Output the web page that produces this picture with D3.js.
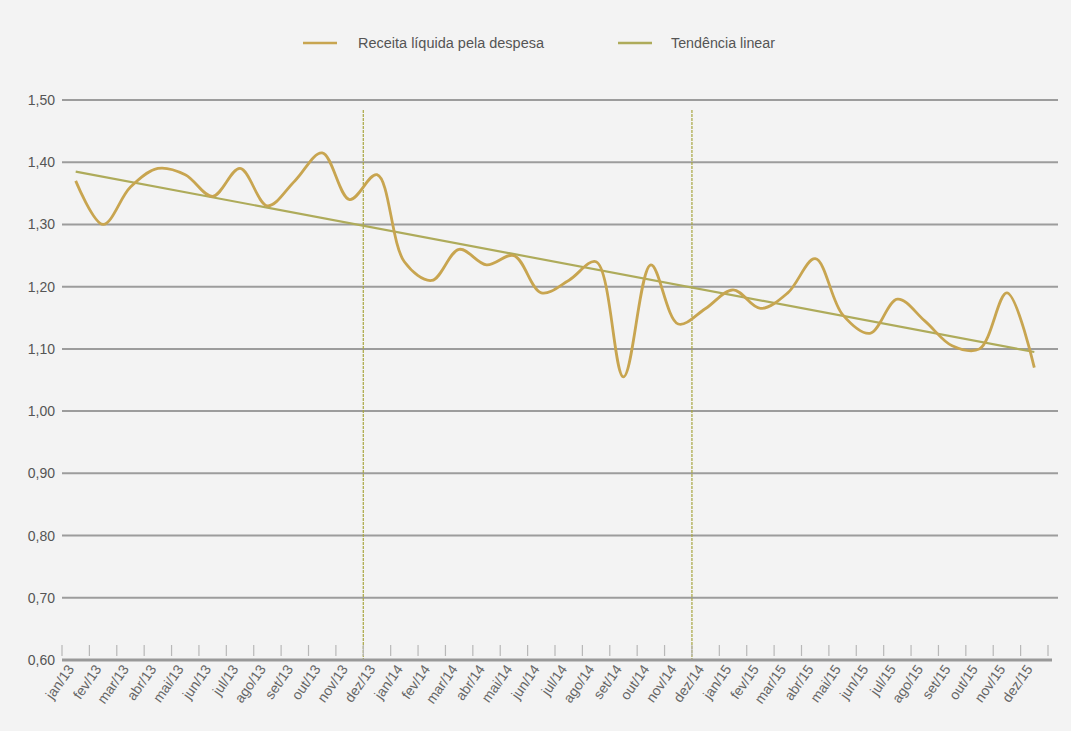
<!DOCTYPE html>
<html>
<head>
<meta charset="utf-8">
<script src="https://cdn.jsdelivr.net/npm/d3@7"></script>
<style>
  html, body { margin: 0; padding: 0; background: #f3f3f3; }
  svg { display: block; }
</style>
</head>
<body>
<svg id="chart" width="1071" height="731"></svg>
<script>
// ---- data ----
const months = [
  "jan/13","fev/13","mar/13","abr/13","mai/13","jun/13","jul/13","ago/13","set/13","out/13","nov/13","dez/13",
  "jan/14","fev/14","mar/14","abr/14","mai/14","jun/14","jul/14","ago/14","set/14","out/14","nov/14","dez/14",
  "jan/15","fev/15","mar/15","abr/15","mai/15","jun/15","jul/15","ago/15","set/15","out/15","nov/15","dez/15"
];
const ratio = [
  1.37, 1.30, 1.36, 1.39, 1.38, 1.345, 1.39, 1.33, 1.37, 1.415, 1.34, 1.38,
  1.24, 1.21, 1.26, 1.235, 1.25, 1.19, 1.21, 1.24, 1.055, 1.235, 1.14, 1.165,
  1.195, 1.165, 1.19, 1.245, 1.155, 1.125, 1.18, 1.145, 1.105, 1.10, 1.19, 1.07
];
const trendCats = ["jan/13", "dez/15"];
const trendVals = [1.385, 1.095];
const separators = ["dez/13", "dez/14"];
const yTicks = [0.6, 0.7, 0.8, 0.9, 1.0, 1.1, 1.2, 1.3, 1.4, 1.5];
const seriesNames = ["Receita líquida pela despesa", "Tendência linear"];

// ---- layout ----
const svg = d3.select("#chart");
const mLeft = 62, mRight = 1048, mTop = 100, mBottom = 660;
const fontNarrow = "'Liberation Sans Narrow', 'Arial Narrow', 'Liberation Sans', sans-serif";
const colLine = "#c8a550", colTrend = "#aeab5a", colSep = "#a8a640";

const x = d3.scaleBand().domain(months).range([mLeft, mRight]).padding(0);
const y = d3.scaleLinear().domain([0.6, 1.5]).range([mBottom, mTop]);
const cx = d => x(d) + x.bandwidth() / 2;

// grid lines
svg.append("g").selectAll("line").data(yTicks.filter(v => v > 0.6)).join("line")
  .attr("x1", mLeft).attr("x2", 1058)
  .attr("y1", d => y(d)).attr("y2", d => y(d))
  .attr("stroke", "#9c9c9c").attr("stroke-width", 2);

// y labels
svg.append("g").selectAll("text").data(yTicks).join("text")
  .attr("x", 55).attr("y", d => y(d) + 5)
  .attr("text-anchor", "end")
  .attr("font-family", fontNarrow).attr("font-size", 14)
  .attr("fill", "#555")
  .text(d => d3.format(".2f")(d).replace(".", ","));

// separator vertical lines
svg.append("g").selectAll("line").data(separators).join("line")
  .attr("x1", d => x(d)).attr("x2", d => x(d))
  .attr("y1", 110).attr("y2", mBottom)
  .attr("stroke", colSep).attr("stroke-width", 1.2)
  .attr("stroke-dasharray", "3,1");

// x axis baseline and ticks
const tickPos = months.map(m => x(m)).concat([mRight]);
svg.append("g").selectAll("line").data(tickPos).join("line")
  .attr("x1", d => d).attr("x2", d => d)
  .attr("y1", 645).attr("y2", 656)
  .attr("stroke", "#b8b8b8").attr("stroke-width", 1.2);
svg.append("line")
  .attr("x1", mLeft).attr("x2", 1052)
  .attr("y1", mBottom).attr("y2", mBottom)
  .attr("stroke", "#999").attr("stroke-width", 3);

// x labels
svg.append("g").selectAll("text").data(months).join("text")
  .attr("transform", d => `translate(${cx(d) - 1},${mBottom + 9}) rotate(-55)`)
  .attr("text-anchor", "end")
  .attr("font-family", fontNarrow).attr("font-size", 14)
  .attr("fill", "#666")
  .text(d => d);

// trend line
svg.append("path")
  .datum(trendCats.map((c, i) => [cx(c), y(trendVals[i])]))
  .attr("d", d3.line())
  .attr("fill", "none").attr("stroke", colTrend).attr("stroke-width", 2.2);

// data line
svg.append("path")
  .datum(months.map((m, i) => [cx(m), y(ratio[i])]))
  .attr("d", d3.line().curve(d3.curveCatmullRom.alpha(0.5)))
  .attr("fill", "none").attr("stroke", colLine).attr("stroke-width", 2.8);

// legend
const legend = [
  { name: seriesNames[0], color: colLine, lx: 303, tx: 358, tw: 186 },
  { name: seriesNames[1], color: colTrend, lx: 618, tx: 671, tw: 104 }
];
const lg = svg.append("g").selectAll("g").data(legend).join("g");
lg.append("line")
  .attr("x1", d => d.lx).attr("x2", d => d.lx + 34)
  .attr("y1", 43).attr("y2", 43)
  .attr("stroke", d => d.color).attr("stroke-width", 2.5);
lg.append("text")
  .attr("x", d => d.tx).attr("y", 48)
  .attr("font-family", fontNarrow).attr("font-size", 14)
  .attr("fill", "#555")
  .attr("textLength", d => d.tw).attr("lengthAdjust", "spacingAndGlyphs")
  .text(d => d.name);
</script>
</body>
</html>
